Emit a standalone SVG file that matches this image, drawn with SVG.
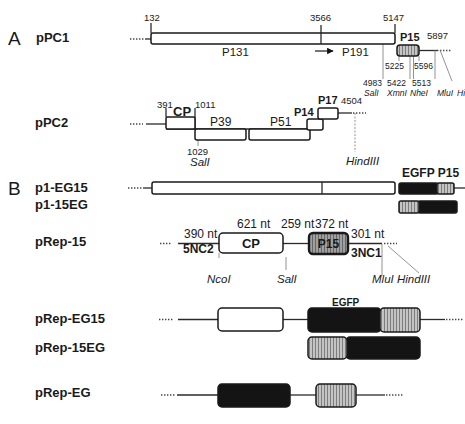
<svg xmlns="http://www.w3.org/2000/svg" width="465" height="424" viewBox="0 0 465 424">
<defs>
<style>
text{font-family:"Liberation Sans",Arial,Helvetica,sans-serif;fill:#1a1a1a}
.big{font-size:19px}
.name{font-size:13px;font-weight:bold}
.num{font-size:9.5px}
.sm{font-size:8.5px}
.p{font-size:11.5px}
.pb{font-size:11px;font-weight:bold}
.nt{font-size:12px}
.ntb{font-size:12px;font-weight:bold}
.it{font-style:italic}
.box{stroke:#1a1a1a;stroke-width:1.5}
.wht{fill:#fff}
.blk{fill:#141414}
.stp{fill:url(#stip)}
.stpd{fill:url(#stipd)}
.ln{stroke:#2a2a2a;stroke-width:1.3;fill:none}
.dt{stroke:#444;stroke-width:1.3;stroke-dasharray:1.4 1.6;fill:none}
.th{stroke:#777;stroke-width:0.8;fill:none}
</style>
<pattern id="stip" width="3" height="4" patternUnits="userSpaceOnUse">
<rect width="3" height="4" fill="#c4c4c4"/>
<rect width="1" height="4" fill="#7d7d7d"/>
</pattern>
<pattern id="stipd" width="3" height="4" patternUnits="userSpaceOnUse">
<rect width="3" height="4" fill="#a0a0a0"/>
<rect width="1" height="4" fill="#666"/>
</pattern>
<marker id="arr" viewBox="0 0 10 10" refX="9" refY="5" markerWidth="5" markerHeight="5" orient="auto">
<path d="M0,0 L10,5 L0,10 z" fill="#111"/>
</marker>
</defs>
<rect width="465" height="424" fill="#fff"/>

<g id="connectors">
<!-- pPC1 -->
<path class="dt" d="M130,39 H146"/>
<path class="ln" d="M146,39 H151"/>
<path class="ln" d="M151,23 V33"/>
<path class="ln" d="M321,25 V44"/>
<path class="ln" d="M395,24 V33"/>
<path class="ln" d="M419,50.5 H437"/>
<path class="dt" d="M437,50.5 H452"/>
<path class="ln" d="M315,51 H333" marker-end="url(#arr)"/>
<path class="th" d="M383,44 V79"/>
<path class="th" d="M399,56 V61"/>
<path class="th" d="M410,56 V79"/>
<path class="th" d="M413.5,56 V79"/>
<path class="th" d="M419,56 V61"/>
<path class="th" d="M435,50 V79"/>
<path class="th" d="M440,50 L452,81"/>
<!-- pPC2 -->
<path class="dt" d="M130,124 H143"/>
<path class="ln" d="M146,124 H166"/>
<path class="ln" d="M166,108 V117"/>
<path class="ln" d="M195,108 V129"/>
<path class="ln" d="M166,129 H310"/>
<path class="th" d="M198,140 V146"/>
<path class="ln" d="M338,113 H352"/>
<path class="dt" d="M353,113 H366"/>
<path class="th" d="M355,113 V152" stroke-dasharray="2 1.5"/>
<!-- p1-EG15 -->
<path class="dt" d="M128,188 H143"/>
<path class="ln" d="M143,188 H152"/>
<path class="ln" d="M454,188 H465"/>
<!-- pRep-15 -->
<path class="dt" d="M160,243.5 H172"/>
<path class="ln" d="M178,243.5 H219"/>
<path class="ln" d="M283,243.5 H309"/>
<path class="ln" d="M348,243.5 H382"/>
<path class="dt" d="M384,243.5 H397"/>
<path class="th" d="M219,253 V258"/>
<path class="th" d="M286,257 V270"/>
<path class="th" d="M382,244 V276"/>
<path class="th" d="M388,246 L419,273"/>
<!-- pRep-EG15 -->
<path class="dt" d="M159,319.5 H173"/>
<path class="ln" d="M178,319.5 H218"/>
<path class="ln" d="M283,319.5 H308"/>
<path class="ln" d="M420,319.5 H445"/>
<path class="dt" d="M446,319.5 H463"/>
<!-- pRep-EG -->
<path class="dt" d="M161,395 H175"/>
<path class="ln" d="M177,395 H218"/>
<path class="ln" d="M290,395 H316"/>
<path class="ln" d="M356,395 H385"/>
<path class="dt" d="M386,395 H403"/>
</g>

<g id="section-labels">
<text class="big" x="8" y="45">A</text>
<text class="big" x="8" y="195">B</text>
</g>

<g id="pPC1">
<text class="name" x="36" y="42">pPC1</text>
<rect class="box wht" x="151" y="33" width="244" height="11" rx="2"/>
<line class="ln" x1="321" y1="33" x2="321" y2="44"/>
<text class="num" x="144" y="21">132</text>
<text class="num" x="310" y="21">3566</text>
<text class="num" x="383" y="21">5147</text>
<text class="p" x="222" y="56">P131</text>
<text class="p" x="342" y="56">P191</text>
</g>

<g id="pPC1-P15">
<rect class="box stp" x="397" y="45" width="22" height="11" rx="3"/>
<text class="pb" x="400" y="41">P15</text>
<text class="num" x="427" y="39">5897</text>
<text class="sm" x="385" y="69">5225</text>
<text class="sm" x="414" y="69">5596</text>
<text class="sm" x="363" y="86">4983</text>
<text class="sm" x="387" y="86">5422</text>
<text class="sm" x="412" y="86">5513</text>
<text class="sm it" x="364" y="96">SalI</text>
<text class="sm it" x="387" y="96">XmnI</text>
<text class="sm it" x="410" y="96">NheI</text>
<text class="sm it" x="437" y="96">MluI</text>
<text class="sm it" x="457" y="96">Hi</text>
</g>

<g id="pPC2">
<text class="name" x="35" y="127">pPC2</text>
<text class="num" x="157" y="108">391</text>
<text class="num" x="195" y="108">1011</text>
<text class="num" x="187" y="155">1029</text>
<text class="p it" x="190" y="166">SalI</text>
<text class="num" x="341" y="104">4504</text>
<text class="p it" x="346" y="165">HindIII</text>
</g>

<g id="pPC2-CP">
<rect class="box wht" x="166" y="117" width="29" height="12" rx="1.5"/>
<text class="name" x="173" y="116">CP</text>
</g>
<g id="pPC2-P39">
<rect class="box wht" x="195" y="129" width="51" height="11" rx="2"/>
<text class="nt" x="210" y="126">P39</text>
</g>
<g id="pPC2-P51">
<rect class="box wht" x="249" y="129" width="61" height="11" rx="2"/>
<text class="nt" x="270" y="126">P51</text>
</g>
<g id="pPC2-P14">
<rect class="box wht" x="307" y="119" width="16" height="11" rx="2"/>
<text class="pb" x="294" y="116">P14</text>
</g>
<g id="pPC2-P17">
<rect class="box wht" x="318" y="108" width="20" height="11" rx="2"/>
<text class="pb" x="318" y="104">P17</text>
</g>

<g id="p1-EG15">
<text class="name" x="35" y="192">p1-EG15</text>
<rect class="box wht" x="152" y="182" width="243" height="12" rx="2"/>
<line class="ln" x1="322" y1="182" x2="322" y2="194"/>
<rect class="box blk" x="399" y="183" width="39" height="11" rx="2"/>
<rect class="box stp" x="437" y="183" width="17" height="11" rx="2"/>
<text class="ntb" x="402" y="177">EGFP P15</text>
</g>

<g id="p1-15EG">
<text class="name" x="35" y="209">p1-15EG</text>
<rect class="box blk" x="418" y="201" width="39" height="12" rx="2"/>
<rect class="box stp" x="399" y="201" width="20" height="12" rx="2"/>
</g>

<g id="pRep-15">
<text class="name" x="35" y="246">pRep-15</text>
<text class="nt" x="184" y="238">390 nt</text>
<text class="ntb" x="183" y="253">5NC2</text>
<text class="nt" x="237" y="228">621 nt</text>
<text class="nt" x="281" y="228">259 nt</text>
<text class="nt" x="315" y="228">372 nt</text>
<text class="nt" x="351" y="238">301 nt</text>
<text class="ntb" x="351" y="257">3NC1</text>
<text class="p it" x="207" y="283">NcoI</text>
<text class="p it" x="277" y="283">SalI</text>
<text class="p it" x="372" y="283">MluI</text>
<text class="p it" x="397" y="283">HindIII</text>
</g>
<g id="pRep-15-CP">
<rect class="box wht" x="219" y="233" width="64" height="20" rx="4"/>
<text class="name" x="251" y="248" text-anchor="middle">CP</text>
</g>
<g id="pRep-15-P15">
<rect class="stpd" x="309" y="233" width="39" height="21" rx="4" stroke="#1a1a1a" stroke-width="2.4"/>
<text class="ntb" x="328.5" y="248" text-anchor="middle">P15</text>
</g>

<g id="pRep-EG15">
<text class="name" x="35" y="323">pRep-EG15</text>
<rect class="box wht" x="218" y="308" width="65" height="23" rx="4"/>
<rect class="box blk" x="308" y="308" width="73" height="24" rx="4"/>
<rect class="box stp" x="380" y="308" width="40" height="24" rx="4"/>
<text class="pb" x="332" y="306" style="font-size:10px">EGFP</text>
</g>

<g id="pRep-15EG">
<text class="name" x="35" y="352">pRep-15EG</text>
<rect class="box blk" x="346" y="337" width="74" height="22" rx="4"/>
<rect class="box stp" x="308" y="337" width="39" height="22" rx="4"/>
</g>

<g id="pRep-EG">
<text class="name" x="35" y="397">pRep-EG</text>
<rect class="box blk" x="218" y="384" width="72" height="23" rx="4"/>
<rect class="box stp" x="316" y="384" width="40" height="23" rx="4"/>
</g>
</svg>
